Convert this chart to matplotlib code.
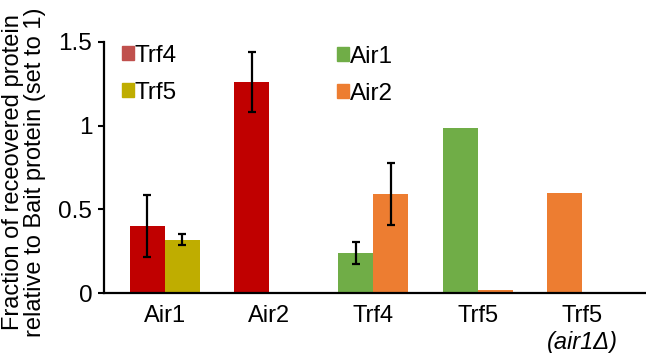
import numpy as np
import matplotlib
matplotlib.use("Agg")
import matplotlib.pyplot as plt
from matplotlib.patches import Patch

plt.rcParams['font.family'] = ['Liberation Sans', 'DejaVu Sans']

# ---- data ----
groups = ['Air1', 'Air2', 'Trf4', 'Trf5', 'Trf5']
group_sub = ['', '', '', '', '(air1Δ)']
nan = np.nan
trf4 = [0.40, 1.26, nan, nan, nan]
trf4_err = [0.185, 0.178, nan, nan, nan]
trf5 = [0.317, 0.0, nan, nan, nan]
trf5_err = [0.033, nan, nan, nan, nan]
air1 = [nan, nan, 0.239, 0.986, nan]
air1_err = [nan, nan, 0.065, nan, nan]
air2 = [nan, nan, 0.592, 0.018, 0.598]
air2_err = [nan, nan, 0.186, nan, nan]
air2_side = [1, 1, 1, 1, -1]

yticks = [0, 0.5, 1, 1.5]
ytick_labels = ['0', '0.5', '1', '1.5']

c_trf4 = '#C00000'
c_trf4_leg = '#C0504D'
c_trf5 = '#BFAD00'
c_air1 = '#70AD47'
c_air2 = '#ED7D31'

fig = plt.figure(figsize=(6.46, 3.53), dpi=100)
ax = fig.add_axes([104/646, 1-293/353, 1-104/646, (293-42)/353])

x = np.arange(len(groups))
w = 0.336
ekw = dict(elinewidth=1.6, capthick=1.6, capsize=3.0, ecolor='black')

ax.bar(x - w/2, trf4, w, color=c_trf4, yerr=trf4_err, error_kw=ekw)
ax.bar(x + w/2, trf5, w, color=c_trf5, yerr=trf5_err, error_kw=ekw)
ax.bar(x - w/2, air1, w, color=c_air1, yerr=air1_err, error_kw=ekw)
ax.bar(x + np.array(air2_side)*w/2, air2, w, color=c_air2, yerr=air2_err, error_kw=ekw)

ax.set_ylim(0, 1.5)
ax.set_xlim(-0.585, 4.615)
ax.set_yticks(yticks)
ax.set_yticklabels(ytick_labels)
ax.set_xticks(x)
ax.set_xticklabels(groups)
ax.tick_params(axis='y', labelsize=17.5, length=4, width=1.5, pad=4.5, direction='out')
ax.tick_params(axis='x', labelsize=17, length=0, pad=8.5)
for s in ['top', 'right']:
    ax.spines[s].set_visible(False)
for s in ['left', 'bottom']:
    ax.spines[s].set_linewidth(1.6)

for i, sub in enumerate(group_sub):
    if sub:
        ax.annotate(sub, xy=(x[i], 0), xycoords=('data', 'axes fraction'),
                    xytext=(0, -27.5), textcoords='offset points',
                    ha='center', va='top', fontsize=17, style='italic')

fig.text(24/646, 1-172/353,
         'Fraction of receovered protein\nrelative to Bait protein (set to 1)',
         rotation=90, ha='center', va='center', fontsize=17, linespacing=1.05)

legkw = dict(frameon=False, fontsize=17.5, handlelength=0.5, handleheight=0.5,
             handletextpad=0.03, labelspacing=0.6, borderpad=0, borderaxespad=0,
             loc='upper left')
h1 = [Patch(color=c_trf4_leg), Patch(color=c_trf5)]
l1 = fig.legend(h1, ['Trf4', 'Trf5'], bbox_to_anchor=(122/646, 1-45/353), **legkw)
h2 = [Patch(color=c_air1), Patch(color=c_air2)]
l2 = fig.legend(h2, ['Air1', 'Air2'], bbox_to_anchor=(337/646, 1-46/353), **legkw)

fig.savefig('out.png', dpi=100)
